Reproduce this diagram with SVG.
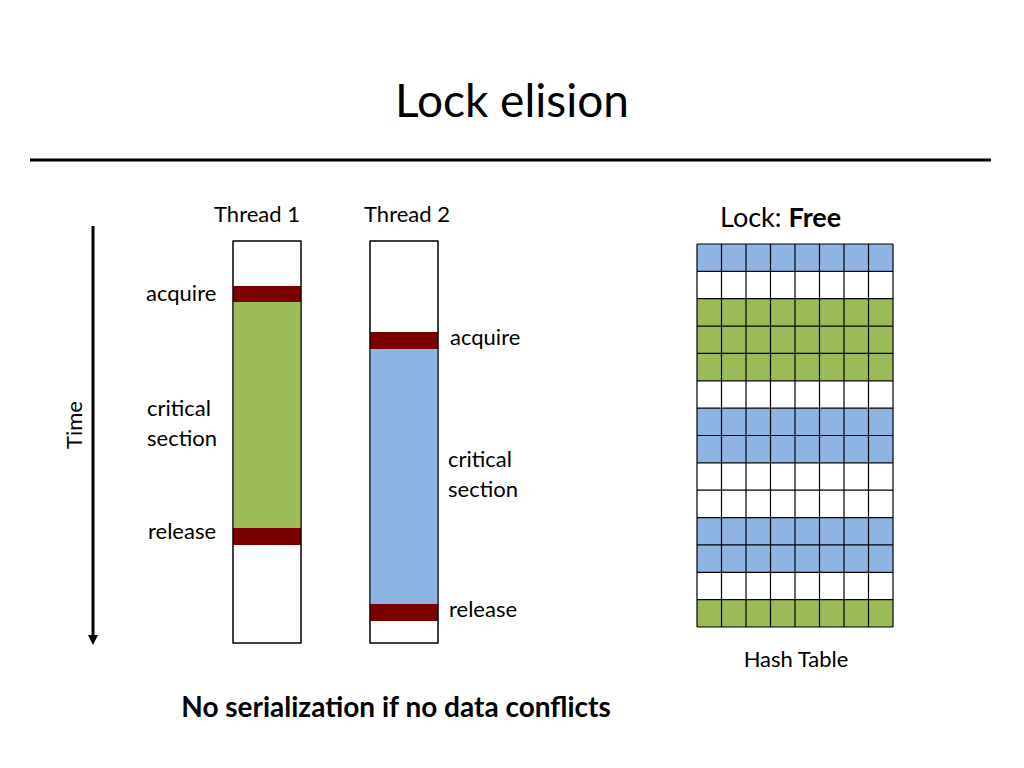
<svg xmlns="http://www.w3.org/2000/svg" width="1024" height="768" viewBox="0 0 1024 768">
<style>
text{font-family:Lato,"Liberation Sans",sans-serif;fill:#000}
.l{font-size:22px}
.bar{fill:#fff;stroke:#000;stroke-width:1}
.red{fill:#7b0000}
.g{fill:#9bbb59}
.b{fill:#8eb4e3}
.w{fill:#fff}
.gl{stroke:#000;stroke-width:1.2}
</style>
<defs>
<marker id="ah" markerWidth="10" markerHeight="10" refX="5" refY="5" orient="auto" markerUnits="userSpaceOnUse"><path d="M0,0 L10,5 L0,10 z" fill="#000"/></marker>
</defs>
<rect width="1024" height="768" fill="#fff"/>
<text x="512" y="117" text-anchor="middle" font-size="46">Lock elision</text>
<line x1="30" y1="160" x2="991" y2="160" stroke="#000" stroke-width="3"/>
<g id="connectors">
<line x1="93" y1="226" x2="93" y2="640" stroke="#000" stroke-width="3" marker-end="url(#ah)"/>
</g>
<text transform="translate(82,425) rotate(-90)" text-anchor="middle" class="l">Time</text>
<g id="thread1">
<text x="257" y="222" text-anchor="middle" class="l">Thread 1</text>
<rect class="bar" x="233" y="241" width="68" height="402"/>
<rect class="g" x="233" y="302" width="68" height="226"/>
<rect class="red" x="233" y="286" width="68" height="16"/>
<rect class="red" x="233" y="528" width="68" height="17"/>
<rect x="233" y="241" width="68" height="402" fill="none" stroke="#000"/>
<text x="146" y="301" class="l">acquire</text>
<text x="147" y="416" class="l">critical</text>
<text x="147" y="446" class="l">section</text>
<text x="148" y="539" class="l">release</text>
</g>
<g id="thread2">
<text x="407" y="222" text-anchor="middle" class="l">Thread 2</text>
<rect class="bar" x="370" y="241" width="68" height="402"/>
<rect class="b" x="370" y="349" width="68" height="255"/>
<rect class="red" x="370" y="332" width="68" height="17"/>
<rect class="red" x="370" y="604" width="68" height="17"/>
<rect x="370" y="241" width="68" height="402" fill="none" stroke="#000"/>
<text x="450" y="345" class="l">acquire</text>
<text x="448" y="467" class="l">critical</text>
<text x="448" y="497" class="l">section</text>
<text x="449" y="617" class="l">release</text>
</g>
<g id="hashtable">
<text x="720" y="227" font-size="27">Lock: <tspan font-weight="bold">Free</tspan></text>
<rect class="b" x="697" y="244" width="196" height="27.36"/>
<rect class="w" x="697" y="271.36" width="196" height="27.36"/>
<rect class="g" x="697" y="298.71" width="196" height="82.07"/>
<rect class="w" x="697" y="380.79" width="196" height="27.36"/>
<rect class="b" x="697" y="408.14" width="196" height="54.71"/>
<rect class="w" x="697" y="462.86" width="196" height="54.71"/>
<rect class="b" x="697" y="517.57" width="196" height="54.71"/>
<rect class="w" x="697" y="572.29" width="196" height="27.36"/>
<rect class="g" x="697" y="599.64" width="196" height="27.36"/>
<g class="gl">
<line x1="697" y1="244" x2="893" y2="244"/><line x1="697" y1="271.36" x2="893" y2="271.36"/><line x1="697" y1="298.71" x2="893" y2="298.71"/><line x1="697" y1="326.07" x2="893" y2="326.07"/><line x1="697" y1="353.43" x2="893" y2="353.43"/><line x1="697" y1="380.79" x2="893" y2="380.79"/><line x1="697" y1="408.14" x2="893" y2="408.14"/><line x1="697" y1="435.5" x2="893" y2="435.5"/><line x1="697" y1="462.86" x2="893" y2="462.86"/><line x1="697" y1="490.21" x2="893" y2="490.21"/><line x1="697" y1="517.57" x2="893" y2="517.57"/><line x1="697" y1="544.93" x2="893" y2="544.93"/><line x1="697" y1="572.29" x2="893" y2="572.29"/><line x1="697" y1="599.64" x2="893" y2="599.64"/><line x1="697" y1="627" x2="893" y2="627"/>
<line x1="697" y1="244" x2="697" y2="627"/><line x1="721.5" y1="244" x2="721.5" y2="627"/><line x1="746" y1="244" x2="746" y2="627"/><line x1="770.5" y1="244" x2="770.5" y2="627"/><line x1="795" y1="244" x2="795" y2="627"/><line x1="819.5" y1="244" x2="819.5" y2="627"/><line x1="844" y1="244" x2="844" y2="627"/><line x1="868.5" y1="244" x2="868.5" y2="627"/><line x1="893" y1="244" x2="893" y2="627"/>
</g>
<text x="796" y="667" text-anchor="middle" class="l">Hash Table</text>
</g>
<text x="396" y="717" text-anchor="middle" font-size="28" font-weight="bold">No serialization if no data conflicts</text>
</svg>
